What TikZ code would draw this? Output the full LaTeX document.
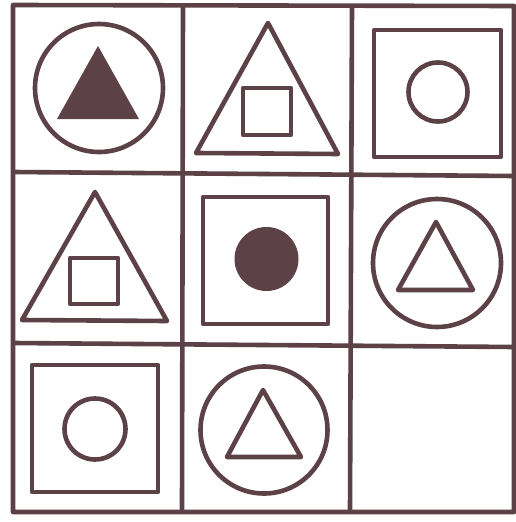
\documentclass[tikz,border=0pt]{standalone}
\definecolor{ink}{RGB}{92,66,70}
\begin{document}
\begin{tikzpicture}[x=1pt,y=-1pt,line join=round,
  shp/.style={draw=ink,line width=4.6pt}]
\useasboundingbox (0,0) rectangle (516,522);
\fill[white] (0,0) rectangle (516,522);
% grid
\draw[shp] (13,5) -- (514,6) -- (514,512) -- (13,512) -- cycle;
\draw[shp] (183,5) -- (182,512);
\draw[shp] (352,6) -- (350,512);
\draw[shp] (13,172) -- (514,176);
\draw[shp] (13,343) -- (514,347);
% row 1
\draw[shp] (99,88) circle (64);
\fill[ink] (98,46) -- (139,119) -- (57,119) -- cycle;
\draw[shp] (268,23) -- (338,154) -- (196,153) -- cycle;
\draw[shp] (243,88) rectangle (291,135);
\draw[shp] (374,30) rectangle (501,157);
\draw[shp] (438,92) circle (29.5);
% row 2
\draw[shp] (95,192) -- (167,321) -- (22,320) -- cycle;
\draw[shp] (70,258) rectangle (118,304);
\draw[shp] (203,197) rectangle (328,324);
\fill[ink] (266.5,259) circle (32);
\draw[shp] (437,263) circle (64);
\draw[shp] (436,222) -- (473,290) -- (398,290) -- cycle;
% row 3
\draw[shp] (32,365) rectangle (158,492);
\draw[shp] (95,429) circle (30.5);
\draw[shp] (264,430) circle (63.5);
\draw[shp] (263,390) -- (301,457) -- (227,457) -- cycle;
\end{tikzpicture}
\end{document}
